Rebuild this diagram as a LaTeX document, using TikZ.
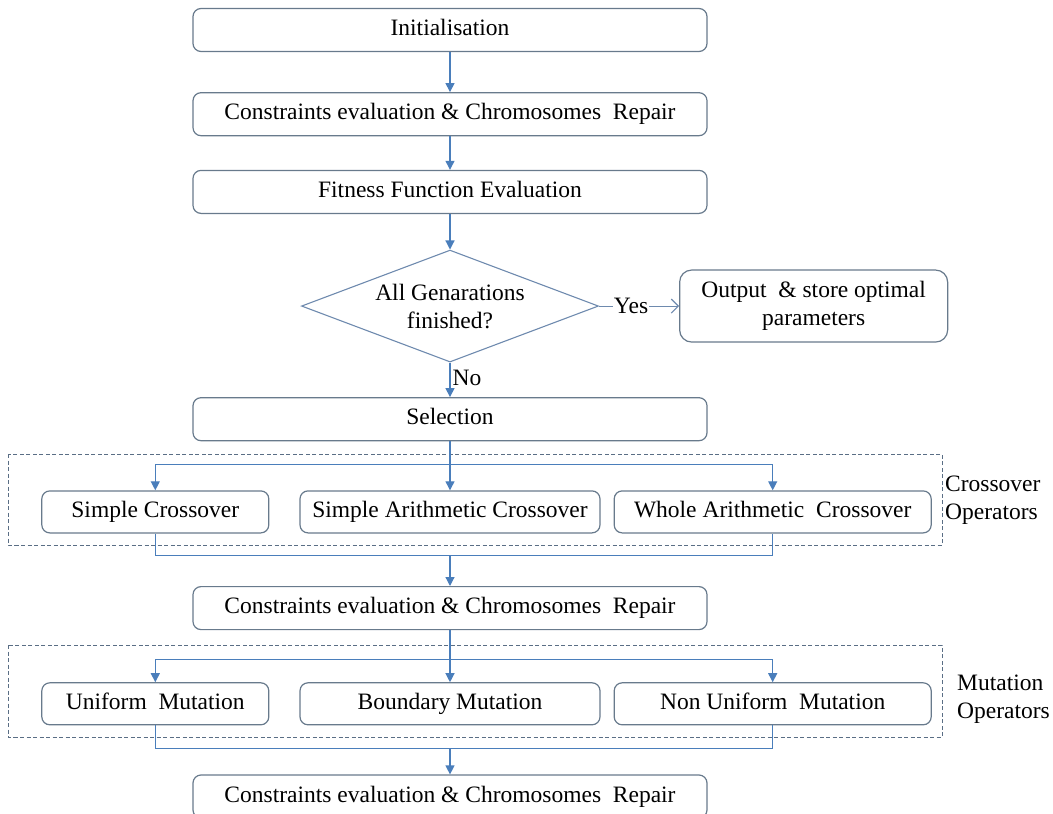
\documentclass[tikz,border=0pt]{standalone}
\usepackage{fontspec}
\setmainfont{Liberation Serif}
\usepackage{xcolor}
\usetikzlibrary{positioning, arrows.meta, shapes.geometric, calc}
\definecolor{LineBlue}{HTML}{4A7EBB}
\definecolor{BoxGray}{HTML}{687A8C}
\definecolor{DiaBlue}{HTML}{6E8AAE}
\definecolor{FrameGray}{HTML}{5A6E85}
\newcommand{\boxfont}{\fontsize{23.5}{28}\selectfont}
\tikzset{
  box/.style={draw=BoxGray, rounded corners=8pt, align=center,
              font=\boxfont, line width=1.2pt, inner sep=3pt},
  mainbox/.style={box, minimum width=514pt, minimum height=43pt,
                  text height=16pt, text depth=5pt},
  opbox/.style={box, minimum height=42pt, text height=16pt, text depth=5pt},
  decision/.style={diamond, draw=DiaBlue, line width=1.1pt, align=center,
                   font=\boxfont, aspect=2.65, inner sep=0pt,
                   minimum width=297pt, minimum height=112pt},
  link/.style={draw=LineBlue, line width=1.2pt},
  arr/.style={link, -{Triangle[length=9pt, width=9pt]}},
  yesarr/.style={draw=DiaBlue, line width=1.1pt,
                 -{Straight Barb[length=7pt, width=14pt]}},
  opframe/.style={draw=FrameGray, line width=0.9pt,
                  dash pattern=on 4pt off 2.5pt},
  oplabel/.style={anchor=west, align=left, font=\boxfont, inner sep=0pt}
}

\begin{document}
\begin{tikzpicture}[x=1pt, y=-1pt]

  \useasboundingbox (0,0) rectangle (1053,814);
  \clip (0,0) rectangle (1053,814);

  % ----- Main column -----
  \node[mainbox] (init) at (450,30) {Initialisation};
  \node[mainbox, below=40pt of init] (cons1)
    {Constraints evaluation \& Chromosomes\ \ Repair};
  \node[mainbox, below=33.5pt of cons1] (fit) {Fitness Function Evaluation};
  \node[decision, below=35.5pt of fit] (dec) {All Genarations\\finished?};
  \node[box, right=80pt of dec, minimum width=268pt, minimum height=72pt,
        rounded corners=12pt] (out) {Output\ \ \& store optimal\\parameters};
  \node[mainbox, below=34.5pt of dec] (sel) {Selection};

  % ----- Crossover operators -----
  \node[opbox, below=49pt of sel, minimum width=300pt] (sac)
    {Simple Arithmetic Crossover};
  \node[opbox, left=30pt of sac, minimum width=227pt] (sc) {Simple Crossover};
  \node[opbox, right=13pt of sac, minimum width=317pt] (wac)
    {Whole Arithmetic\ \ Crossover};
  \draw[opframe] (8,454) rectangle (942,545);
  \node[oplabel] (xlabel) at (945,500) {Crossover\\Operators};

  \node[mainbox, below=52.5pt of sac] (cons2)
    {Constraints evaluation \& Chromosomes\ \ Repair};

  % ----- Mutation operators -----
  \node[opbox, below=52pt of cons2, minimum width=300pt] (bm) {Boundary Mutation};
  \node[opbox, left=30pt of bm, minimum width=227pt] (um) {Uniform\ \ Mutation};
  \node[opbox, right=13pt of bm, minimum width=317pt] (num)
    {Non Uniform\ \ Mutation};
  \draw[opframe] (8,645) rectangle (942,737);
  \node[oplabel] (mlabel) at (957,699) {Mutation\\Operators};

  \node[mainbox, below=49pt of bm] (cons3)
    {Constraints evaluation \& Chromosomes\ \ Repair};

  % ----- Main column arrows -----
  \draw[arr] (init) -- (cons1);
  \draw[arr] (cons1) -- (fit);
  \draw[arr] (fit) -- (dec);
  \draw[yesarr] (dec) -- node[pos=0.4, fill=white, inner sep=1pt, font=\boxfont] {Yes} (out);
  \draw[arr] (dec) -- node[right, pos=0.45, inner sep=2pt, font=\boxfont] {No} (sel);

  % ----- Selection -> crossovers -> repair -----
  \coordinate[below=23pt of sel] (xsplit);
  \draw[arr] (sel) -- (sac);
  \draw[arr] (xsplit) -| (sc);
  \draw[arr] (xsplit) -| (wac);
  \coordinate[below=22pt of sac] (xjoin);
  \draw[link] (sc) |- (xjoin) -| (wac);
  \draw[arr] (xjoin) -- (cons2);

  % ----- Repair -> mutations -> repair -----
  \coordinate[below=29pt of cons2] (msplit);
  \draw[arr] (cons2) -- (bm);
  \draw[arr] (msplit) -| (um);
  \draw[arr] (msplit) -| (num);
  \coordinate[below=23pt of bm] (mjoin);
  \draw[link] (um) |- (mjoin) -| (num);
  \draw[arr] (mjoin) -- (cons3);

\end{tikzpicture}
\end{document}
